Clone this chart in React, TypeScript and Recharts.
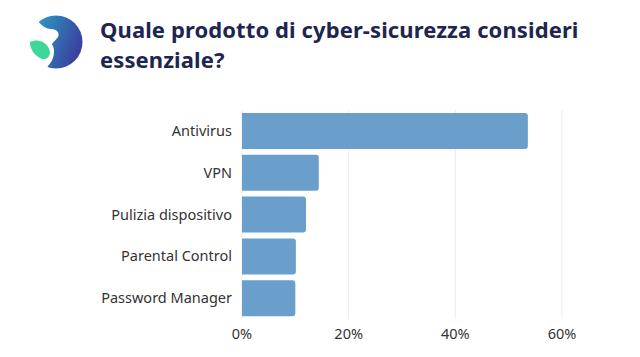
import React from "react";
import { BarChart, Bar, XAxis, YAxis, CartesianGrid } from "recharts";

const categories = ["Antivirus", "VPN", "Pulizia dispositivo", "Parental Control", "Password Manager"];
const values = [0.536, 0.144, 0.12, 0.101, 0.1];
const xTicks = [0, 0.2, 0.4, 0.6];
const title = ["Quale prodotto di cyber-sicurezza consideri", "essenziale?"];

const data = categories.map((c, i) => ({ name: c, value: values[i] }));

const FONT = "'Source Sans Pro', 'Noto Sans', 'Open Sans', sans-serif";

export default function App() {
  return (
    <div style={{ position: "relative", width: 640, height: 357, margin: -8, background: "#fff", fontFamily: FONT }}>
      <svg width={90} height={80} style={{ position: "absolute", left: 0, top: 0 }}>
        <defs>
          <linearGradient id="lg" x1="0" y1="0.2" x2="1" y2="0.6">
            <stop offset="0%" stopColor="#2aa2c8" />
            <stop offset="100%" stopColor="#3b3d9c" />
          </linearGradient>
        </defs>
        <circle cx={56} cy={42} r={26.5} fill="url(#lg)" />
        <path d="M20 8 L33 14 C39 24 45 29 51 29 C57 29 60 33 58 37 C56 40 53 42 52 44 C56 50 54 60 48 66 L44 76 L20 76 Z" fill="#fff" />
        <path d="M30 42 C38 38 48 42 50 52 C50 57 46 60 42 59 C35 56 30 50 30 42 Z" fill="#3fd69a" />
      </svg>
      <div style={{ position: "absolute", left: 100, top: 14, fontSize: 22, fontWeight: 700, color: "#1e2550", lineHeight: "30px", letterSpacing: 0.1 }}>
        <div>{title[0]}</div>
        <div>{title[1]}</div>
      </div>
      <div style={{ position: "absolute", left: 0, top: 0 }}>
        <BarChart
          width={640}
          height={357}
          data={data}
          layout="vertical"
          margin={{ top: 110, right: 78, bottom: 8, left: 0 }}
          barSize={36}
        >
          <CartesianGrid horizontal={false} vertical stroke="#ebebeb" />
          <XAxis
            type="number"
            domain={[0, 0.6]}
            ticks={xTicks}
            tickFormatter={(v: number) => `${Math.round(v * 100)}%`}
            axisLine={false}
            tickLine={false}
            tickMargin={4}
            height={30}
            tick={{ fill: "#333", fontSize: 14.5, fontFamily: FONT }}
          />
          <YAxis
            type="category"
            dataKey="name"
            width={242}
            axisLine={false}
            tickLine={false}
            tickMargin={4}
            tick={{ fill: "#333", fontSize: 14.5, fontFamily: FONT }}
          />
          <Bar dataKey="value" fill="#6a9fcb" radius={[0, 3, 3, 0]} isAnimationActive={false} />
        </BarChart>
      </div>
    </div>
  );
}
